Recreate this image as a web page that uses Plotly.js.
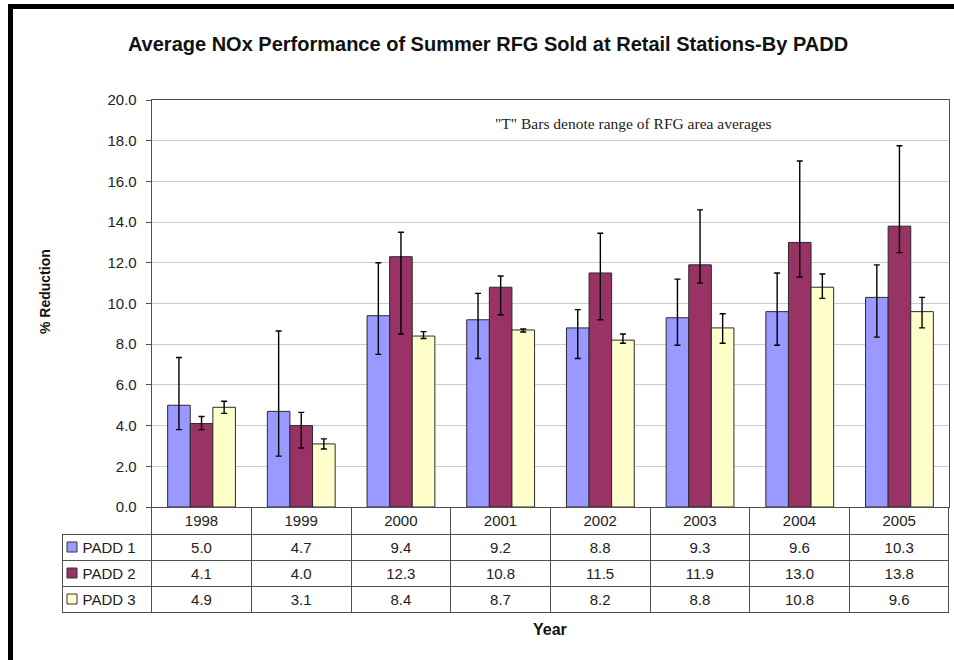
<!DOCTYPE html>
<html>
<head>
<meta charset="utf-8">
<script src="https://cdn.plot.ly/plotly-3.0.1.min.js"></script>
<style>html,body{margin:0;padding:0;background:#fff;}#chart{width:954px;height:660px;}</style>
</head>
<body>
<div id="chart"></div>
<script>
// ---- data ----
const years = ['1998','1999','2000','2001','2002','2003','2004','2005'];
const seriesNames = ['PADD 1','PADD 2','PADD 3'];
const padd1 = [5.0, 4.7, 9.4, 9.2, 8.8, 9.3, 9.6, 10.3];
const padd2 = [4.1, 4.0, 12.3, 10.8, 11.5, 11.9, 13.0, 13.8];
const padd3 = [4.9, 3.1, 8.4, 8.7, 8.2, 8.8, 10.8, 9.6];
// "T" bar range of RFG area averages (high / low)
const padd1High = [7.35, 8.65, 12.0, 10.5, 9.7, 11.2, 11.5, 11.9];
const padd1Low  = [3.8, 2.5, 7.5, 7.3, 7.3, 7.95, 7.95, 8.35];
const padd2High = [4.45, 4.65, 13.5, 11.35, 13.45, 14.6, 17.0, 17.75];
const padd2Low  = [3.8, 2.9, 8.5, 9.45, 9.2, 11.0, 11.3, 12.5];
const padd3High = [5.2, 3.35, 8.62, 8.75, 8.5, 9.5, 11.45, 10.3];
const padd3Low  = [4.6, 2.85, 8.28, 8.6, 8.05, 8.05, 10.25, 8.8];
const yTicks = [0,2,4,6,8,10,12,14,16,18,20];

// ---- styling ----
const W = 954, H = 660;
const colors = ['#9999FF', '#993366', '#FFFFCC'];
const FONT = 'Liberation Sans, Arial, sans-serif';
const px = v => v / W;           // pixel x -> paper
const py = v => 1 - v / H;       // pixel y (from top) -> paper

const plotL = 151.7, plotR = 949.3, plotT = 100, plotB = 507;
const tableL = 62, tableB = 613;
const headerH = 27, rowH = 26;

const vals = [padd1, padd2, padd3];
const highs = [padd1High, padd2High, padd3High];
const lows = [padd1Low, padd2Low, padd3Low];

const traces = vals.map((v, i) => ({
  type: 'bar',
  name: seriesNames[i],
  x: years,
  y: v,
  marker: {color: colors[i], line: {color: '#2a2a2a', width: 1}},
  error_y: {
    type: 'data', symmetric: false,
    array: v.map((val, k) => +(highs[i][k] - val).toFixed(3)),
    arrayminus: v.map((val, k) => +(val - lows[i][k]).toFixed(3)),
    color: '#000', thickness: 1.4, width: 3
  },
  showlegend: false,
  hoverinfo: 'x+y'
}));

// data table below the plot
const headerVals = [''].concat(years);
const cellVals = [seriesNames.map(n => '\u00a0\u00a0\u00a0' + n.replace(' ', '\u00a0'))]
  .concat(years.map((y, k) => vals.map(v => v[k].toFixed(1))));
const colW = [plotL - tableL].concat(years.map(() => (plotR - plotL) / years.length));

traces.push({
  type: 'table',
  domain: {x: [px(tableL), px(plotR + 0.5)], y: [py(tableB), py(plotB)]},
  columnwidth: colW,
  header: {
    values: headerVals,
    height: headerH,
    align: 'center',
    fill: {color: ['rgba(0,0,0,0)'].concat(years.map(() => '#ffffff'))},
    line: {color: ['rgba(0,0,0,0)'].concat(years.map(() => '#505050')), width: 1},
    font: {family: FONT, size: 15, color: '#222'}
  },
  cells: {
    values: cellVals,
    height: rowH,
    align: ['left'].concat(years.map(() => 'center')),
    fill: {color: '#ffffff'},
    line: {color: '#505050', width: 1},
    font: {family: FONT, size: 15, color: '#222'}
  }
});

// legend keys in the table
const keyShapes = colors.map((c, i) => {
  const cy = plotB + headerH + rowH * i + rowH / 2;
  return {
    type: 'rect', xref: 'paper', yref: 'paper',
    x0: px(67), x1: px(77), y0: py(cy + 5), y1: py(cy - 5),
    fillcolor: c, line: {color: '#333', width: 1}, layer: 'above'
  };
});

const layout = {
  width: W, height: H,
  margin: {l: 0, r: 0, t: 0, b: 0},
  paper_bgcolor: '#ffffff',
  plot_bgcolor: '#ffffff',
  font: {family: FONT, color: '#222'},
  title: {
    text: '<b>Average NOx Performance of Summer RFG Sold at Retail Stations-By PADD</b>',
    x: px(488), xanchor: 'center', xref: 'paper',
    y: py(44), yanchor: 'middle', yref: 'paper',
    font: {family: FONT, size: 20, color: '#111'}
  },
  barmode: 'group',
  bargap: 0.32,
  bargroupgap: 0,
  xaxis: {
    type: 'category',
    domain: [px(plotL), px(plotR)],
    showticklabels: false,
    ticks: '',
    showline: true, linecolor: '#505050', linewidth: 1, mirror: true,
    showgrid: false, zeroline: false, fixedrange: true
  },
  yaxis: {
    domain: [py(plotB), py(plotT)],
    range: [0, 20],
    tickvals: yTicks,
    tickformat: '.1f',
    ticks: 'outside', ticklen: 5, tickcolor: '#505050',
    ticklabelstandoff: 6,
    tickfont: {family: FONT, size: 15, color: '#222'},
    showline: true, linecolor: '#505050', linewidth: 1, mirror: true,
    showgrid: true, gridcolor: '#cccccc', gridwidth: 1,
    zeroline: false, fixedrange: true, automargin: false
  },
  annotations: [
    {
      text: '"T" Bars denote range of RFG area averages',
      xref: 'paper', yref: 'paper', x: px(633), y: py(123),
      xanchor: 'center', yanchor: 'middle', showarrow: false,
      font: {family: 'Liberation Serif, Times New Roman, serif', size: 15.5, color: '#222'}
    },
    {
      text: '<b>% Reduction</b>',
      xref: 'paper', yref: 'paper', x: px(45), y: py(292),
      xanchor: 'center', yanchor: 'middle', textangle: -90, showarrow: false,
      font: {family: FONT, size: 14, color: '#111'}
    },
    {
      text: '<b>Year</b>',
      xref: 'paper', yref: 'paper', x: px(550), y: py(629),
      xanchor: 'center', yanchor: 'middle', showarrow: false,
      font: {family: FONT, size: 16, color: '#111'}
    }
  ],
  shapes: keyShapes.concat([{
    type: 'rect', xref: 'paper', yref: 'paper',
    x0: px(10.5), y0: py(6.5), x1: px(W + 20), y1: py(H + 20),
    line: {color: '#000', width: 5}, fillcolor: 'rgba(0,0,0,0)', layer: 'above'
  }])
};

Plotly.newPlot('chart', traces, layout, {displayModeBar: false, staticPlot: true});
</script>
</body>
</html>
